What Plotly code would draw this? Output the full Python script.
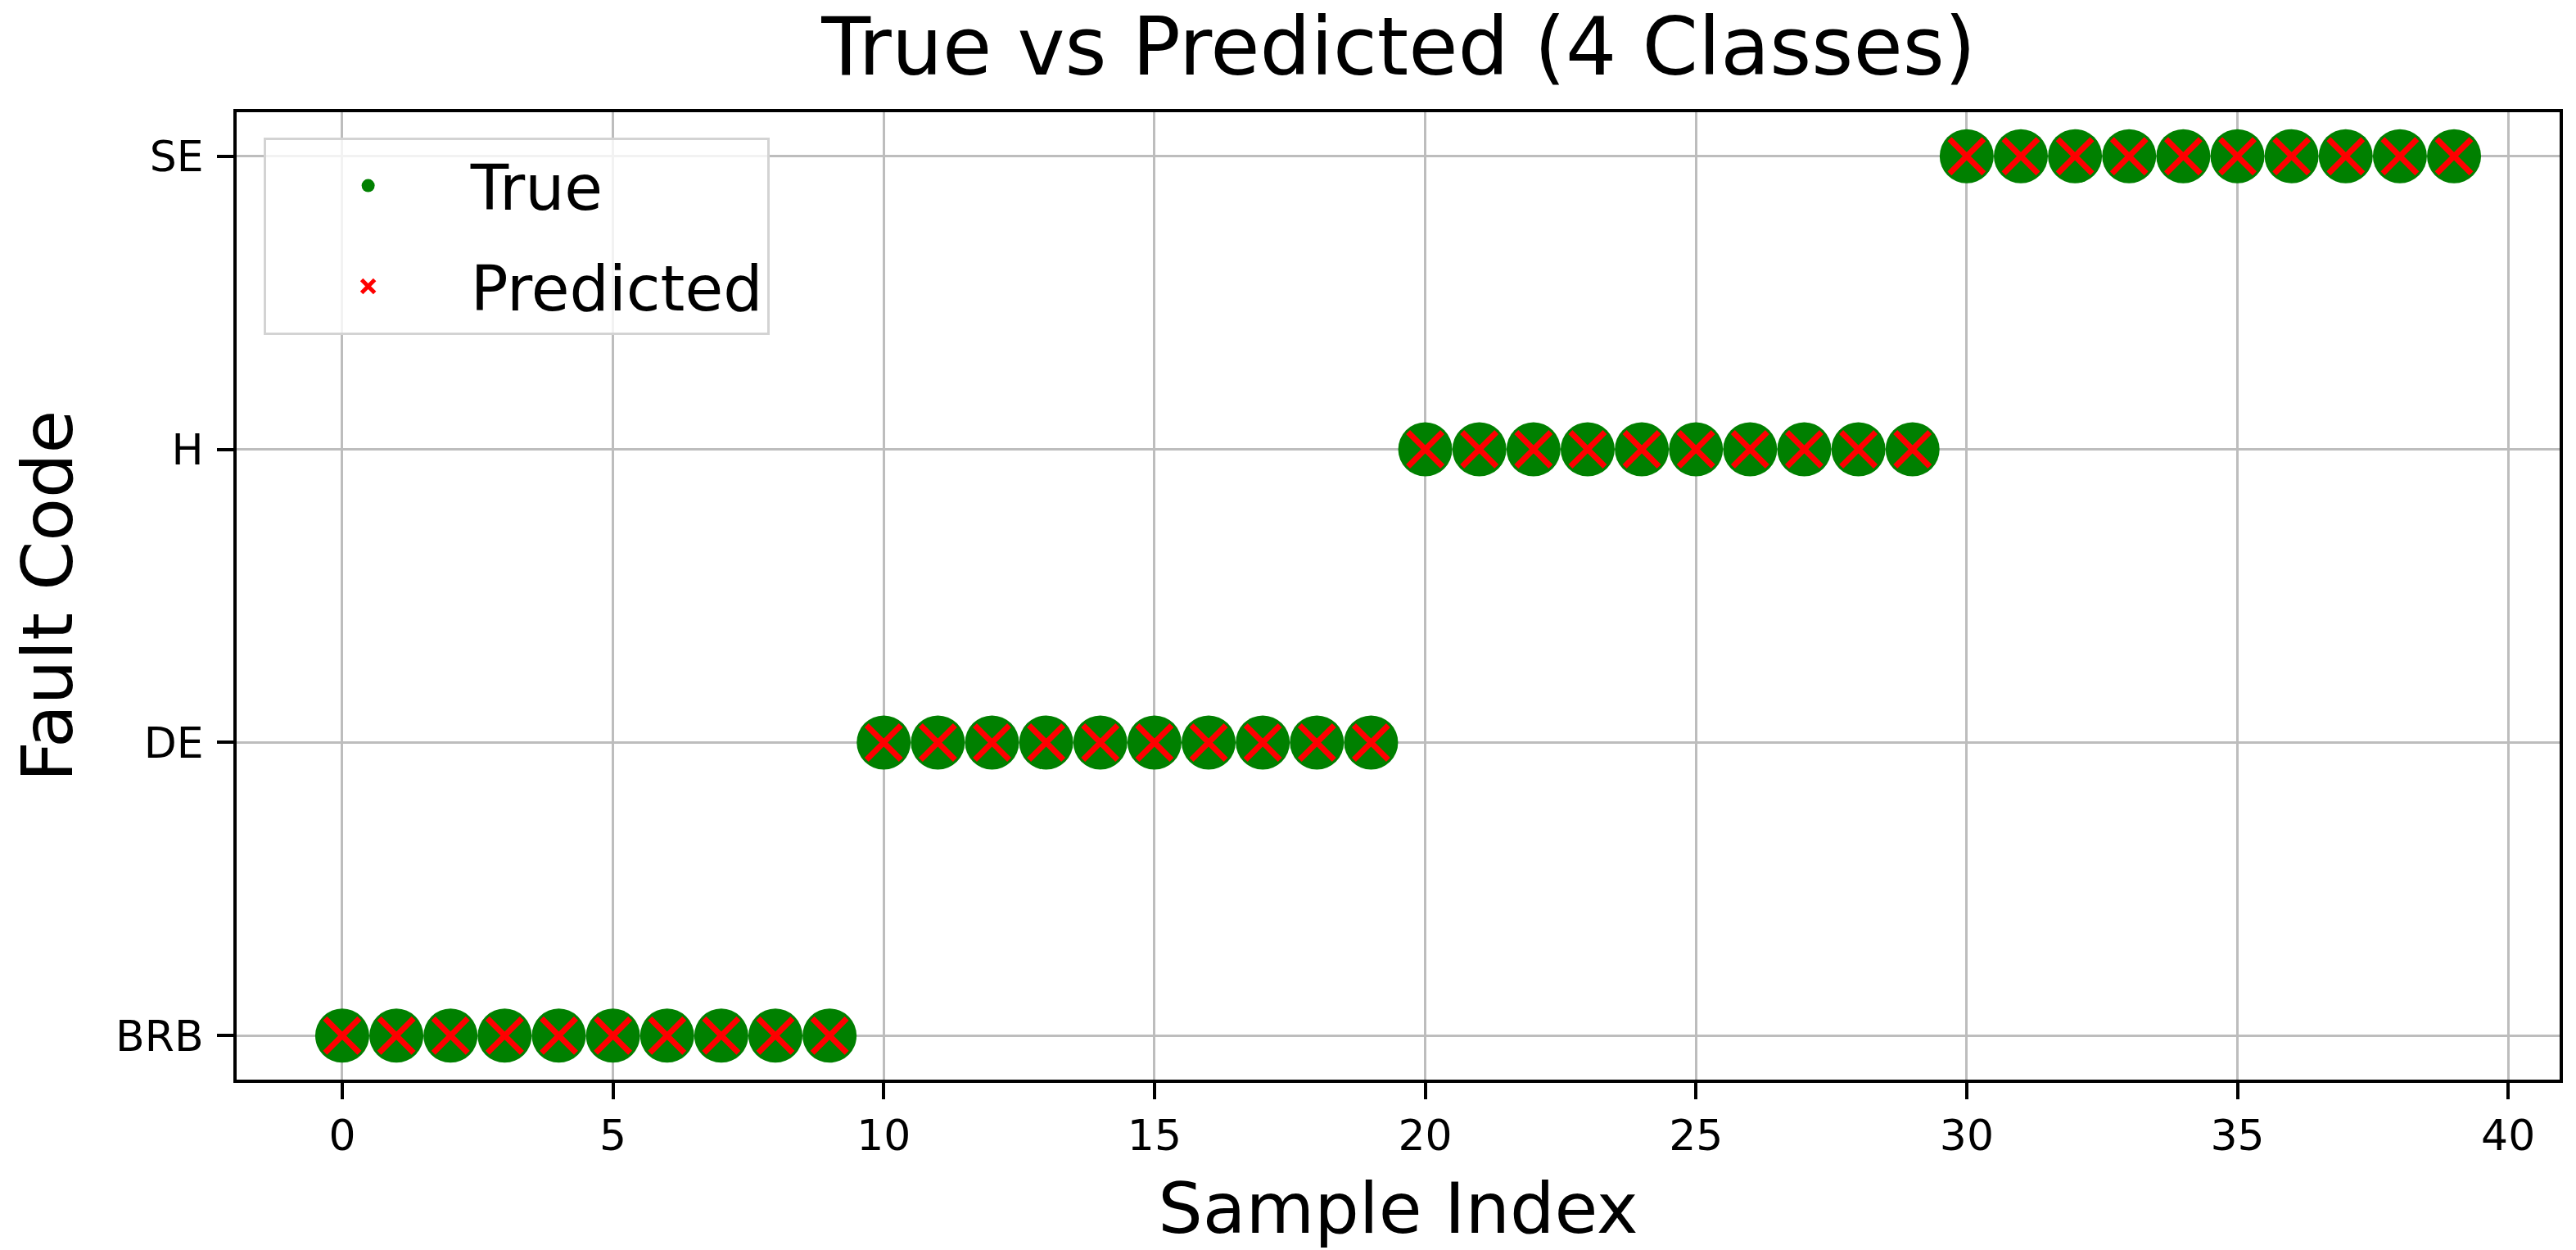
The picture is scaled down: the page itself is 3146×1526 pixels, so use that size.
import plotly.graph_objects as go

# class names in code order
classes = ['BRB', 'DE', 'H', 'SE']

sample_index = [0, 1, 2, 3, 4, 5, 6, 7, 8, 9,
                10, 11, 12, 13, 14, 15, 16, 17, 18, 19,
                20, 21, 22, 23, 24, 25, 26, 27, 28, 29,
                30, 31, 32, 33, 34, 35, 36, 37, 38, 39]

y_true = [0, 0, 0, 0, 0, 0, 0, 0, 0, 0,
          1, 1, 1, 1, 1, 1, 1, 1, 1, 1,
          2, 2, 2, 2, 2, 2, 2, 2, 2, 2,
          3, 3, 3, 3, 3, 3, 3, 3, 3, 3]

y_pred = [0, 0, 0, 0, 0, 0, 0, 0, 0, 0,
          1, 1, 1, 1, 1, 1, 1, 1, 1, 1,
          2, 2, 2, 2, 2, 2, 2, 2, 2, 2,
          3, 3, 3, 3, 3, 3, 3, 3, 3, 3]

x_ticks = [0, 5, 10, 15, 20, 25, 30, 35, 40]

FONT = "DejaVu Sans"

fig = go.Figure()

true_pts = go.Scatter(x=sample_index, y=y_true, mode='markers', name='True',
                      legendgroup='true',
                      marker=dict(color='green', size=66, symbol='circle'))
pred_pts = go.Scatter(x=sample_index, y=y_pred, mode='markers', name='Predicted',
                      legendgroup='pred',
                      marker=dict(color='red', size=42, symbol='x-thin',
                                  line=dict(color='red', width=7)))

fig.add_trace(true_pts)
fig.add_trace(pred_pts)

axis_style = dict(showline=True, linecolor='black', linewidth=4, mirror=True,
                  ticks='outside', ticklen=20, tickwidth=4, tickcolor='black',
                  showgrid=True, gridcolor='#bdbdbd', gridwidth=3,
                  zeroline=False, layer='above traces',
                  tickfont=dict(family=FONT, size=52, color='black'))

fig.update_xaxes(range=[-1.95, 40.95], tickvals=x_ticks,
                 title=dict(text='Sample Index', font=dict(family=FONT, size=86, color='black'),
                            standoff=30),
                 **axis_style)
fig.update_yaxes(range=[-0.15, 3.15], tickvals=[0, 1, 2, 3], ticktext=classes,
                 ticklabelstandoff=6,
                 title=dict(text='Fault Code', font=dict(family=FONT, size=86, color='black'),
                            standoff=40),
                 **axis_style)

fig.update_layout(
    width=3146, height=1526,
    margin=dict(l=281, r=28, t=129, b=216),
    plot_bgcolor='white', paper_bgcolor='white',
    title=dict(text='True vs Predicted (4 Classes)', x=0.5404, xanchor='center',
               y=1, yanchor='top', yref='container', pad=dict(t=14),
               font=dict(family=FONT, size=98, color='black')),
    legend=dict(x=0.0115, y=0.974, xanchor='left', yanchor='top',
                bgcolor='rgba(255,255,255,0.8)', bordercolor='#d3d3d3', borderwidth=3,
                font=dict(family=FONT, size=76, color='black'),
                itemwidth=240, entrywidth=484, entrywidthmode='pixels',
                traceorder='grouped', tracegroupgap=21),
)

fig.write_html("out.html")
